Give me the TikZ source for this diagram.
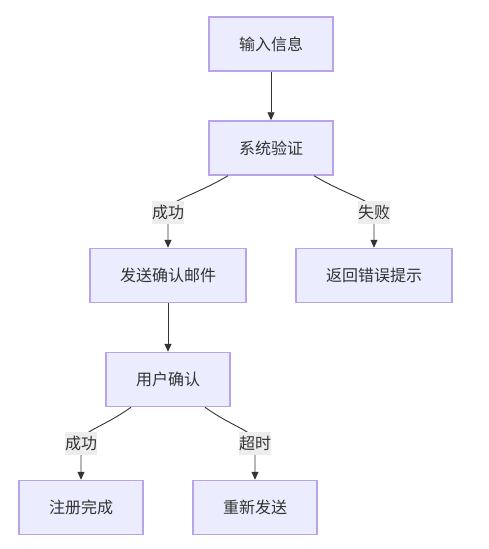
\documentclass[tikz,border=0pt]{standalone}
\usepackage{fontspec}
\setmainfont{Noto Sans CJK SC}
\usetikzlibrary{arrows.meta}
\definecolor{boxfill}{HTML}{ECECFF}
\definecolor{boxline}{HTML}{B9A4EC}
\definecolor{inkgrey}{HTML}{333333}
\definecolor{lblfill}{HTML}{EDEDED}
\begin{document}
\begin{tikzpicture}[x=1pt, y=-1pt,
	box/.style={fill=boxfill, draw=boxline, line width=1.5pt, inner xsep=30pt, inner ysep=0pt, minimum height=54pt, text=inkgrey, font=\fontsize{16}{20}\selectfont},
	lbl/.style={fill=lblfill, inner sep=0pt, minimum height=23pt, text=inkgrey, font=\fontsize{16}{20}\selectfont},
	edge/.style={draw=inkgrey, line width=0.9pt, -{Triangle[length=8pt, width=7pt]}}]
	\useasboundingbox (0, 0) rectangle (488, 549);

	\node [box] (input) at (271, 44) {输入信息};
	\node [box] (verify) at (271, 148) {系统验证};
	\node [box] (mail) at (168, 275.5) {发送确认邮件};
	\node [box] (error) at (374, 275.5) {返回错误提示};
	\node [box] (confirm) at (168, 379.5) {用户确认};
	\node [box] (done) at (81, 507.5) {注册完成};
	\node [box] (resend) at (255, 507.5) {重新发送};

	\coordinate (ok1) at (168, 212);
	\coordinate (fail1) at (374, 212);
	\coordinate (ok2) at (81, 443);
	\coordinate (late2) at (255, 443);

	\draw [edge] (input) to (verify);
	\draw [edge] (mail) to (confirm);

	\draw [edge] ([xshift=-43pt]verify.south) .. controls (192, 197) and (168, 200) .. (ok1) -- (mail.north);
	\draw [edge] ([xshift=43pt]verify.south) .. controls (350, 197) and (374, 200) .. (fail1) -- (error.north);
	\draw [edge] ([xshift=-37pt]confirm.south) .. controls (102, 428) and (81, 431) .. (ok2) -- (done.north);
	\draw [edge] ([xshift=37pt]confirm.south) .. controls (234, 428) and (255, 431) .. (late2) -- (resend.north);

	\node [lbl] (ok1lbl) at (ok1) {成功};
	\node [lbl] (fail1lbl) at (fail1) {失败};
	\node [lbl] (ok2lbl) at (ok2) {成功};
	\node [lbl] (late2lbl) at (late2) {超时};
\end{tikzpicture}
\end{document}
